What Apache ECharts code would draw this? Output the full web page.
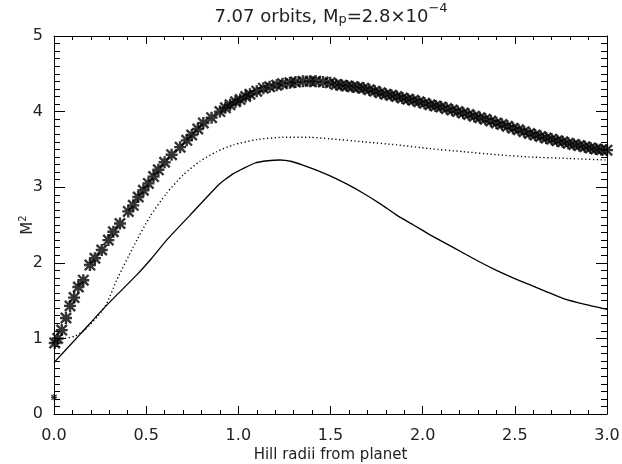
<!DOCTYPE html>
<html>
<head>
<meta charset="utf-8">
<script src="https://cdn.jsdelivr.net/npm/echarts@6/dist/echarts.min.js"></script>
<style>html,body{margin:0;padding:0;background:#fff;}#c{width:622px;height:464px;}</style>
</head>
<body>
<div id="c"></div>
<script>
// ---- data ----
const xTicks = [0.0, 0.5, 1.0, 1.5, 2.0, 2.5, 3.0];
const yTicks = [0, 1, 2, 3, 4, 5];

const starX = [0.0, 0.004, 0.02, 0.042, 0.065, 0.087, 0.109, 0.132, 0.159, 0.195, 0.222, 0.259, 0.295, 0.322, 0.358, 0.403, 0.43, 0.457, 0.485, 0.512, 0.54, 0.566, 0.60, 0.638, 0.684, 0.72, 0.747, 0.78, 0.81, 0.855, 0.90, 0.93, 0.955, 0.985, 1.01, 1.04, 1.063, 1.10, 1.136, 1.17, 1.208, 1.24, 1.28, 1.31, 1.35, 1.389, 1.42, 1.46, 1.498,
  1.53, 1.56, 1.59, 1.62, 1.65, 1.68, 1.71, 1.74, 1.77, 1.80, 1.83, 1.86, 1.89, 1.92, 1.95, 1.98, 2.01, 2.04, 2.07, 2.10, 2.13, 2.16, 2.19, 2.22, 2.25, 2.28, 2.31, 2.34, 2.37, 2.40, 2.43, 2.46, 2.49, 2.52, 2.55, 2.58, 2.61, 2.64, 2.67, 2.70, 2.73, 2.76, 2.79, 2.82, 2.85, 2.88, 2.91, 2.94, 2.97, 3.0];
const starY = [0.22, 0.94, 1.0, 1.11, 1.27, 1.43, 1.54, 1.68, 1.77, 1.97, 2.06, 2.17, 2.30, 2.41, 2.52, 2.68, 2.76, 2.87, 2.96, 3.05, 3.14, 3.23, 3.33, 3.43, 3.53, 3.62, 3.69, 3.77, 3.85, 3.92, 4.0, 4.05, 4.09, 4.13, 4.16, 4.2, 4.23, 4.27, 4.31, 4.33, 4.35, 4.37, 4.38, 4.39, 4.40, 4.40, 4.40, 4.39, 4.38,
  4.36, 4.35, 4.34, 4.33, 4.32, 4.31, 4.29, 4.27, 4.25, 4.23, 4.215, 4.20, 4.18, 4.165, 4.15, 4.13, 4.11, 4.09, 4.075, 4.06, 4.04, 4.02, 4.00, 3.98, 3.96, 3.94, 3.92, 3.90, 3.875, 3.85, 3.83, 3.805, 3.78, 3.76, 3.735, 3.71, 3.69, 3.67, 3.65, 3.635, 3.615, 3.60, 3.58, 3.565, 3.55, 3.535, 3.52, 3.505, 3.495, 3.49];

const solidX = [0.0, 0.14, 0.286, 0.449, 0.53, 0.611, 0.738, 0.892, 0.973, 1.09, 1.16, 1.226, 1.29, 1.353, 1.42, 1.498, 1.59, 1.678, 1.77, 1.859, 1.95, 2.04, 2.13, 2.22, 2.31, 2.40, 2.49, 2.58, 2.67, 2.76, 2.88, 3.0];
const solidY = [0.68, 1.05, 1.44, 1.84, 2.06, 2.30, 2.63, 3.03, 3.18, 3.32, 3.35, 3.36, 3.34, 3.29, 3.23, 3.15, 3.04, 2.92, 2.78, 2.63, 2.50, 2.37, 2.25, 2.13, 2.01, 1.90, 1.80, 1.71, 1.62, 1.53, 1.45, 1.385];

const dotX = [0.0, 0.06, 0.114, 0.16, 0.195, 0.24, 0.286, 0.34, 0.43, 0.52, 0.611, 0.70, 0.79, 0.883, 0.973, 1.10, 1.244, 1.389, 1.498, 1.68, 1.859, 2.04, 2.22, 2.40, 2.58, 2.79, 3.0];
const dotY = [0.96, 1.0, 1.03, 1.10, 1.18, 1.30, 1.46, 1.77, 2.21, 2.61, 2.92, 3.16, 3.34, 3.47, 3.56, 3.63, 3.66, 3.66, 3.64, 3.60, 3.56, 3.51, 3.47, 3.43, 3.40, 3.38, 3.36];

const titleParts = ['7.07 orbits, M', 'p', '=2.8×10', '−4'];
const xName = 'Hill radii from planet';
const yNameParts = ['M', '2'];

// ---- chart ----
const zip = (a, b) => a.map((v, i) => [v, b[i]]);
const FONT = 'DejaVu Sans';
const INK = '#000';
const TXT = '#222';
const starPath = 'path://M8 0h4v20h-4z M0 8h20v4h-20z M2.8 0L20 17.2L17.2 20L0 2.8z M17.2 0L20 2.8L2.8 20L0 17.2z';

const axisCommon = {
  axisLine: { show: true, onZero: false, lineStyle: { color: INK, width: 1 } },
  splitLine: { show: false },
};

const chart = echarts.init(document.getElementById('c'), null, { renderer: 'canvas' });
chart.setOption({
  animation: false,
  backgroundColor: '#fff',
  grid: { left: 54, right: 15, top: 36, bottom: 50, containLabel: false, outerBoundsMode: 'none' },
  graphic: [{
    type: 'text', x: 331, y: 2,
    style: {
      text: '{n|' + titleParts[0] + '}{sub|' + titleParts[1] + '}{n|' + titleParts[2] + '}{sup|' + titleParts[3] + '}',
      align: 'center', fill: TXT,
      rich: {
        n: { fontFamily: FONT, fontSize: 18, fill: TXT, verticalAlign: 'bottom', lineHeight: 24 },
        sub: { fontFamily: FONT, fontSize: 13, fill: TXT, verticalAlign: 'bottom', lineHeight: 24, padding: [7, 0, 0, 0] },
        sup: { fontFamily: FONT, fontSize: 13, fill: TXT, verticalAlign: 'top', lineHeight: 24 }
      }
    }
  }],
  xAxis: [
    Object.assign({}, axisCommon, {
      type: 'value', position: 'bottom', min: xTicks[0], max: xTicks[xTicks.length - 1], interval: 0.5,
      axisTick: { show: true, inside: true, length: 8, lineStyle: { color: INK } },
      minorTick: { show: true, splitNumber: 5, length: 4, lineStyle: { color: INK } },
      axisLabel: { show: true, margin: 14, fontFamily: FONT, fontSize: 16, color: TXT, formatter: v => v.toFixed(1) },
      name: xName, nameLocation: 'middle', nameGap: 34, nameMoveOverlap: false,
      nameTextStyle: { fontFamily: FONT, fontSize: 15, color: TXT }
    }),
    Object.assign({}, axisCommon, {
      type: 'value', position: 'top', min: xTicks[0], max: xTicks[xTicks.length - 1], interval: 0.5,
      axisTick: { show: true, inside: true, length: 8, lineStyle: { color: INK } },
      minorTick: { show: true, splitNumber: 5, length: 4, lineStyle: { color: INK } },
      axisLabel: { show: false }
    })
  ],
  yAxis: [
    Object.assign({}, axisCommon, {
      type: 'value', position: 'left', min: yTicks[0], max: yTicks[yTicks.length - 1], interval: 1,
      axisTick: { show: true, inside: true, length: 11, lineStyle: { color: INK } },
      minorTick: { show: true, splitNumber: 10, length: 6, lineStyle: { color: INK } },
      axisLabel: { show: true, margin: 11, fontFamily: FONT, fontSize: 16, color: TXT },
      name: '{n|' + yNameParts[0] + '}{sup|' + yNameParts[1] + '}', nameLocation: 'middle', nameGap: 18, nameRotate: 90, nameMoveOverlap: false,
      nameTextStyle: { fontFamily: FONT, fontSize: 15, color: TXT,
        rich: {
          n: { fontFamily: FONT, fontSize: 15, color: TXT, verticalAlign: 'bottom', lineHeight: 18 },
          sup: { fontFamily: FONT, fontSize: 10, color: TXT, verticalAlign: 'top', lineHeight: 18 }
        } }
    }),
    Object.assign({}, axisCommon, {
      type: 'value', position: 'right', min: yTicks[0], max: yTicks[yTicks.length - 1], interval: 1,
      axisTick: { show: true, inside: true, length: 11, lineStyle: { color: INK } },
      minorTick: { show: true, splitNumber: 10, length: 6, lineStyle: { color: INK } },
      axisLabel: { show: false }
    })
  ],
  series: [
    { type: 'line', data: zip(solidX, solidY), showSymbol: false, symbol: 'none', smooth: 0.15,
      lineStyle: { color: INK, width: 1.3 }, z: 3 },
    { type: 'line', data: zip(dotX, dotY), showSymbol: false, symbol: 'none', smooth: 0.2,
      lineStyle: { color: INK, width: 1.4, type: [1.2, 2.6] }, z: 3 },
    { type: 'scatter', data: zip(starX, starY), symbol: starPath,
      symbolSize: (v, p) => (p.dataIndex === 0 ? 6 : 12),
      itemStyle: { color: INK }, z: 4 }
  ]
});
</script>
</body>
</html>
